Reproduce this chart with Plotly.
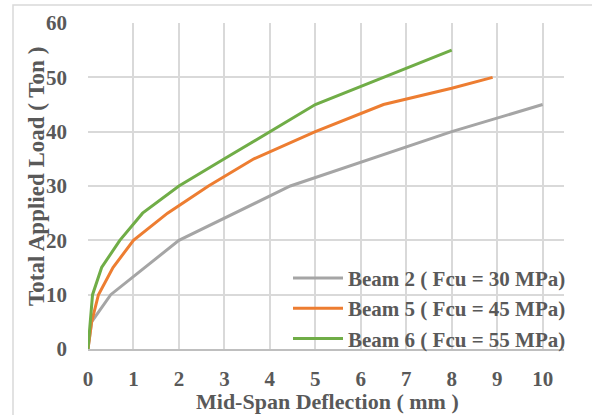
import plotly.graph_objects as go

# Data
beam2_x = [0, 0.08, 0.5, 2, 4.45, 8, 10]
beam2_y = [0, 5, 10, 20, 30, 40, 45]

beam5_x = [0, 0.08, 0.23, 0.55, 1.0, 1.75, 2.65, 3.65, 5.0, 6.5, 8.0, 8.9]
beam5_y = [0, 5, 10, 15, 20, 25, 30, 35, 40, 45, 48, 50]

beam6_x = [0, 0.05, 0.1, 0.3, 0.7, 1.2, 2.0, 3.0, 4.0, 5.0, 6.5, 8.0]
beam6_y = [0, 5, 10, 15, 20, 25, 30, 35, 40, 45, 50, 55]

names = ["Beam 2 ( Fcu = 30 MPa)", "Beam 5 ( Fcu = 45 MPa)", "Beam 6 ( Fcu = 55 MPa)"]
colors = ["#A5A5A5", "#ED7D31", "#70AD47"]

x_ticks = list(range(0, 11))
y_ticks = list(range(0, 61, 10))

x_title = "Mid-Span Deflection ( mm )"
y_title = "Total Applied Load ( Ton )"

FONT = "Liberation Serif"
TXT = "#595959"

fig = go.Figure()
for xs, ys, n, c in zip([beam2_x, beam5_x, beam6_x], [beam2_y, beam5_y, beam6_y], names, colors):
    fig.add_trace(go.Scatter(x=xs, y=ys, mode="lines", name=n,
                             line=dict(color=c, width=3)))

W, H = 592, 415
L, R, T, B = 88, 28, 23, 66
pw, ph = W - L - R, H - T - B

fig.update_layout(
    width=W, height=H,
    margin=dict(l=L, r=R, t=T, b=B),
    paper_bgcolor="white", plot_bgcolor="white",
    font=dict(family=FONT, color=TXT, size=18),
    showlegend=True,
    legend=dict(x=(288 - L) / pw, y=-0.03, xanchor="left", yanchor="bottom",
                bgcolor="rgba(0,0,0,0)", font=dict(family=FONT, size=21, color=TXT, weight="bold"),
                tracegroupgap=0, itemwidth=50),
    xaxis=dict(range=[0, 10.47], tickvals=x_ticks, ticktext=[str(v) for v in x_ticks],
               showgrid=True, gridcolor="#D9D9D9", gridwidth=1.5,
               zeroline=False, showline=True, linecolor="#BFBFBF", linewidth=1.5,
               ticks="", ticklabelstandoff=10, automargin=False,
               tickfont=dict(family=FONT, size=21, color=TXT, weight="bold")),
    yaxis=dict(range=[0, 60], tickvals=y_ticks, ticktext=[str(v) for v in y_ticks],
               showgrid=True, gridcolor="#D9D9D9", gridwidth=1.5,
               zeroline=False, showline=False,
               ticks="", ticklabelstandoff=20, automargin=False,
               tickfont=dict(family=FONT, size=21, color=TXT, weight="bold")),
)

# axis titles as annotations (placed at reference positions)
fig.add_annotation(text=x_title, xref="paper", yref="paper",
                   x=(327 - L) / pw, y=(T + ph - 401) / ph, showarrow=False,
                   xanchor="center", yanchor="middle",
                   font=dict(family=FONT, size=22, color=TXT, weight="bold"))
fig.add_annotation(text=y_title, xref="paper", yref="paper",
                   x=(36 - L) / pw, y=(T + ph - 177) / ph, showarrow=False, textangle=-90,
                   xanchor="center", yanchor="middle",
                   font=dict(family=FONT, size=23, color=TXT, weight="bold"))

# chart outer border (visible on left and top edges)
fig.add_shape(type="rect", xref="paper", yref="paper",
              x0=(13 - L) / pw, x1=(W + 10 - L) / pw,
              y0=-(H + 10 - (T + ph)) / ph, y1=(T + ph - 5) / ph,
              line=dict(color="#D9D9D9", width=1.5), fillcolor="rgba(0,0,0,0)", layer="below")

fig.write_html("out.html")
